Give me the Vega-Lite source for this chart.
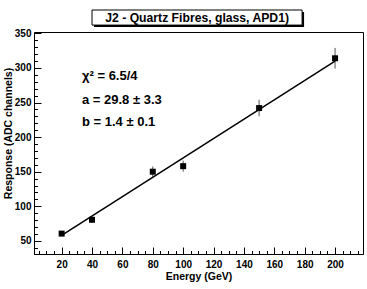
{
  "$schema": "https://vega.github.io/schema/vega-lite/v6.json",
  "width": 329,
  "height": 222,
  "autosize": "none",
  "padding": {"left": 34, "top": 32, "right": 4, "bottom": 35},
  "background": "white",
  "config": {
    "view": {"stroke": "black", "strokeWidth": 1},
    "axis": {"labelFont": "Liberation Sans", "labelFontWeight": "bold", "labelFontSize": 10, "labelColor": "black", "titleFont": "Liberation Sans", "titleFontWeight": "bold", "titleFontSize": 10.5, "titleColor": "black", "grid": false, "domainColor": "black", "tickColor": "black"}
  },
  "datasets": {
    "pts": [
      {"energy": 20, "resp": 60.5, "err": 2},
      {"energy": 40, "resp": 80.5, "err": 4},
      {"energy": 80, "resp": 150, "err": 7.5},
      {"energy": 100, "resp": 158, "err": 8},
      {"energy": 150, "resp": 242, "err": 12},
      {"energy": 200, "resp": 314, "err": 15}
    ],
    "fit": [
      {"energy": 20, "resp": 57.8},
      {"energy": 200, "resp": 309.8}
    ],
    "one": [{}]
  },
  "resolve": {"axis": {"x": "independent", "y": "independent"}},
  "layer": [
    {
      "data": {"name": "pts"},
      "transform": [{"calculate": "datum.resp - datum.err", "as": "lo"}, {"calculate": "datum.resp + datum.err", "as": "hi"}],
      "mark": {"type": "rule", "color": "#555555", "strokeWidth": 1},
      "encoding": {
        "x": {"field": "energy", "type": "quantitative", "scale": {"domain": [1.8, 218.4], "nice": false, "zero": false},
          "axis": {"orient": "bottom", "values": [5,10,15,25,30,35,45,50,55,65,70,75,85,90,95,105,110,115,125,130,135,145,150,155,165,170,175,185,190,195,205,210,215], "labels": false, "domain": false, "tickSize": -3.5, "title": null}},
        "y": {"field": "lo", "type": "quantitative", "scale": {"domain": [31, 352], "nice": false, "zero": false},
          "axis": {"orient": "left", "values": [40,60,70,80,90,110,120,130,140,160,170,180,190,210,220,230,240,260,270,280,290,310,320,330,340], "labels": false, "domain": false, "tickSize": -3.5, "title": null}},
        "y2": {"field": "hi"}
      }
    },
    {
      "data": {"name": "fit"},
      "mark": {"type": "line", "color": "black", "strokeWidth": 1.5},
      "encoding": {
        "x": {"field": "energy", "type": "quantitative", "axis": null},
        "y": {"field": "resp", "type": "quantitative", "axis": null}
      }
    },
    {
      "data": {"name": "pts"},
      "mark": {"type": "square", "color": "black", "filled": true, "opacity": 1, "size": 36},
      "encoding": {
        "x": {"field": "energy", "type": "quantitative",
          "axis": {"orient": "bottom", "values": [20,40,60,80,100,120,140,160,180,200], "tickSize": -7, "labelPadding": 12, "title": "Energy (GeV)", "titlePadding": 2}},
        "y": {"field": "resp", "type": "quantitative",
          "axis": {"orient": "left", "values": [50,100,150,200,250,300,350], "tickSize": -7, "labelPadding": 10, "title": "Response (ADC channels)", "titleY": 101, "titlePadding": 1}}
      }
    },
    {
      "data": {"name": "one"},
      "mark": {"type": "rect", "color": "black", "clip": false},
      "encoding": {"x": {"datum": 41.3, "type": "quantitative", "axis": null}, "x2": {"datum": 179.6}, "y": {"datum": 359.1, "type": "quantitative", "axis": null}, "y2": {"datum": 380.9}}
    },
    {
      "data": {"name": "one"},
      "mark": {"type": "rect", "fill": "white", "stroke": "black", "strokeWidth": 1, "clip": false},
      "encoding": {"x": {"datum": 40, "type": "quantitative", "axis": null}, "x2": {"datum": 178.3}, "y": {"datum": 362, "type": "quantitative", "axis": null}, "y2": {"datum": 383.8}}
    },
    {
      "data": {"name": "one"},
      "mark": {"type": "text", "font": "Liberation Sans", "fontWeight": "bold", "fontSize": 12.2, "align": "center", "baseline": "alphabetic", "color": "black"},
      "encoding": {"x": {"datum": 109.2, "type": "quantitative", "axis": null}, "y": {"datum": 366.5, "type": "quantitative", "axis": null}, "text": {"value": "J2 - Quartz Fibres, glass, APD1)"}}
    },
    {
      "data": {"name": "one"},
      "mark": {"type": "text", "font": "Liberation Sans", "fontWeight": "bold", "fontSize": 13, "align": "left", "baseline": "alphabetic", "color": "black"},
      "encoding": {"x": {"datum": 33.4, "type": "quantitative", "axis": null}, "y": {"datum": 282.7, "type": "quantitative", "axis": null}, "text": {"value": "χ² = 6.5/4"}}
    },
    {
      "data": {"name": "one"},
      "mark": {"type": "text", "font": "Liberation Sans", "fontWeight": "bold", "fontSize": 13, "align": "left", "baseline": "alphabetic", "color": "black"},
      "encoding": {"x": {"datum": 33.4, "type": "quantitative", "axis": null}, "y": {"datum": 247.5, "type": "quantitative", "axis": null}, "text": {"value": "a = 29.8 ± 3.3"}}
    },
    {
      "data": {"name": "one"},
      "mark": {"type": "text", "font": "Liberation Sans", "fontWeight": "bold", "fontSize": 13, "align": "left", "baseline": "alphabetic", "color": "black"},
      "encoding": {"x": {"datum": 33.4, "type": "quantitative", "axis": null}, "y": {"datum": 216.2, "type": "quantitative", "axis": null}, "text": {"value": "b = 1.4 ± 0.1"}}
    }
  ]
}
